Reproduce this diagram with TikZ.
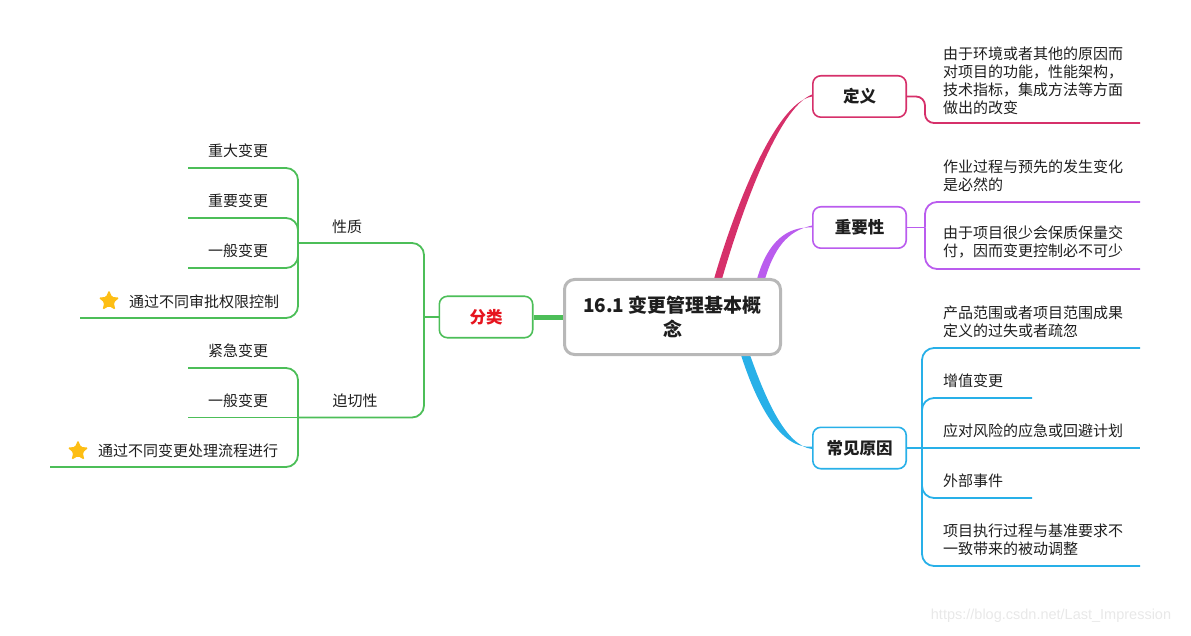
\documentclass[tikz,border=0pt]{standalone}
\usepackage{fontspec}
\setmainfont{Noto Sans CJK SC}
\newfontfamily\wmfont{Liberation Sans}
\usetikzlibrary{shapes.geometric,backgrounds,calc}
\definecolor{cgreen}{RGB}{76,190,88}
\definecolor{cred}{RGB}{230,20,30}
\definecolor{ccrim}{RGB}{214,48,106}
\definecolor{cpurp}{RGB}{186,92,238}
\definecolor{cblue}{RGB}{40,176,232}
\definecolor{cgray}{RGB}{184,184,184}
\definecolor{cstar}{RGB}{253,190,20}
\definecolor{txt}{RGB}{30,30,30}
\definecolor{wmc}{RGB}{232,232,232}
\begin{document}
\begin{tikzpicture}[x=1pt,y=-1pt,
  topic/.style={draw, fill=white, rounded corners=8pt, line width=1.6pt, minimum width=93.4pt, minimum height=41.4pt, inner sep=0pt, font=\fontsize{16.5}{20}\selectfont\bfseries, text=txt},
  leaf/.style={inner sep=0pt, font=\fontsize{15}{18}\selectfont, text=txt, align=left, anchor=west},
  br/.style={line width=1.8pt, rounded corners=12pt},
  starmark/.style={star, star points=5, star point ratio=2.2, fill=cstar, inner sep=0pt, minimum size=22pt, rounded corners=1.5pt}
]
\useasboundingbox (0,0) rectangle (1191,636);

% central topic and main topics
\node[draw=cgray, line width=3pt, rounded corners=10pt, fill=white, minimum width=216pt, minimum height=75pt, inner sep=0pt, align=center, font=\fontsize{19}{24}\selectfont\bfseries, text=txt] (c) at (672.5,317) {16.1 变更管理基本概\\念};
\node[topic, draw=cgreen, text=cred] (fl) at (486,317) {分类};
\node[topic, draw=ccrim] (dy) at (859.5,96.5) {定义};
\node[topic, draw=cpurp] (zy) at (859.5,227.5) {重要性};
\node[topic, draw=cblue] (cj) at (859.5,448) {常见原因};

% main connectors
\begin{pgfonlayer}{background}
\draw[cgreen, line width=5pt] (fl.east) -- (c.west);
\fill[ccrim] (714,279) .. controls (731,220) and (773,103) .. (dy.west) -- ([yshift=2pt]dy.west) .. controls (777,108) and (739,220) .. (722,279) -- cycle;
\fill[cpurp] (757,279) .. controls (768,240) and (788,226.5) .. (zy.west) -- ([yshift=2pt]zy.west) .. controls (792,230) and (776,242) .. (765,279) -- cycle;
\fill[cblue] (741,355) .. controls (756,402) and (780,450) .. ([yshift=1.5pt]cj.west) -- ([yshift=-1pt]cj.west) .. controls (786,446) and (766,400) .. (750,355) -- cycle;
\end{pgfonlayer}

% left: sub topics
\node[leaf, anchor=center] (xz) at (347,227) {性质};
\node[leaf, anchor=center] (qq) at (355,401) {迫切性};
\node[leaf, anchor=center] (l1) at (238,151) {重大变更};
\node[leaf, anchor=center] (l2) at (238,201) {重要变更};
\node[leaf, anchor=center] (l3) at (238,251) {一般变更};
\node[starmark] (s1) at (109,301) {};
\node[leaf] (l4) at (129,302) {通过不同审批权限控制};
\node[leaf, anchor=center] (m1) at (238,351) {紧急变更};
\node[leaf, anchor=center] (m2) at (238,401) {一般变更};
\node[starmark] (s2) at (78,451) {};
\node[leaf] (m3) at (98,451) {通过不同变更处理流程进行};

\coordinate (fj) at (424,317);
\coordinate (xj) at (298,243);
\coordinate (qj) at (298,417.5);
\coordinate (l1e) at (188,168);
\coordinate (l2e) at (188,218);
\coordinate (l3e) at (188,268);
\coordinate (l4e) at (80,318);
\coordinate (m1e) at (188,368);
\coordinate (m2e) at (188,417.5);
\coordinate (m3e) at (50,467);
\draw[br, cgreen] (fl.west) -- (fj);
\draw[br, cgreen] (fj) |- (xj);
\draw[br, cgreen] (fj) |- (qj);
\draw[br, cgreen] (xj) |- (l1e);
\draw[br, cgreen] (xj) |- (l2e);
\draw[br, cgreen] (xj) |- (l3e);
\draw[br, cgreen] (xj) |- (l4e);
\draw[br, cgreen] (qj) |- (m1e);
\draw[br, cgreen] (qj) -- (m2e);
\draw[br, cgreen] (qj) |- (m3e);

% right: leaves
\node[leaf] (d1) at (943,81) {由于环境或者其他的原因而\\对项目的功能，性能架构，\\技术指标，集成方法等方面\\做出的改变};
\node[leaf] (z1) at (943,176) {作业过程与预先的发生变化\\是必然的};
\node[leaf] (z2) at (943,242) {由于项目很少会保质保量交\\付，因而变更控制必不可少};
\node[leaf] (c1) at (943,322) {产品范围或者项目范围成果\\定义的过失或者疏忽};
\node[leaf] (c2) at (943,381) {增值变更};
\node[leaf] (c3) at (943,431) {应对风险的应急或回避计划};
\node[leaf] (c4) at (943,481) {外部事件};
\node[leaf] (c5) at (943,540) {项目执行过程与基准要求不\\一致带来的被动调整};

\coordinate (dj) at (925,96.5);
\coordinate (d1e) at (1140,123);
\coordinate (zj) at (925,227.5);
\coordinate (z1e) at (1140,202);
\coordinate (z2e) at (1140,269);
\coordinate (cjj) at (922,448);
\coordinate (c1e) at (1140,348);
\coordinate (c2e) at (1032,398);
\coordinate (c3e) at (1140,448);
\coordinate (c4e) at (1032,498);
\coordinate (c5e) at (1140,566);
\draw[br, ccrim, rounded corners=9pt] (dy.east) -- (dj) |- (d1e);
\draw[br, cpurp] (zy.east) -- (zj);
\draw[br, cpurp] (zj) |- (z1e);
\draw[br, cpurp] (zj) |- (z2e);
\draw[br, cblue] (cj.east) -- (c3e);
\draw[br, cblue] (cjj) |- (c1e);
\draw[br, cblue] (cjj) |- (c2e);
\draw[br, cblue] (cjj) |- (c4e);
\draw[br, cblue] (cjj) |- (c5e);

% watermark
\node[inner sep=0pt, font=\wmfont\fontsize{14.5}{17}\selectfont, text=wmc] (wm) at (1051,616) {https://blog.csdn.net/Last\_Impression};
\end{tikzpicture}
\end{document}
